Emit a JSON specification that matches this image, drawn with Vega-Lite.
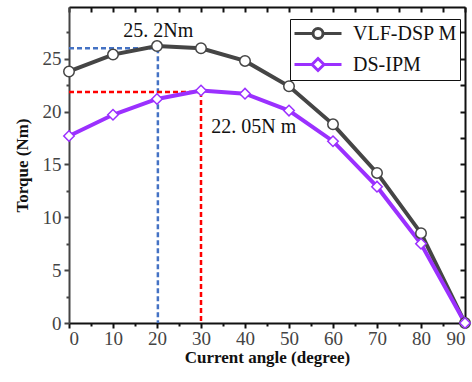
{
  "$schema": "https://vega.github.io/schema/vega-lite/v6.json",
  "autosize": "none",
  "width": 396,
  "height": 316,
  "padding": {"left": 69, "top": 7, "right": 7, "bottom": 59},
  "background": "white",
  "config": {
    "view": {"stroke": null},
    "font": "Liberation Serif",
    "axis": {"grid": false, "labelFont": "Liberation Serif", "titleFont": "Liberation Serif"},
    "legend": {"labelFont": "Liberation Serif"}
  },
  "datasets": {
    "torque": [
      {"angle": 0, "torque": 23.8, "series": "VLF-DSP M"},
      {"angle": 10, "torque": 25.4, "series": "VLF-DSP M"},
      {"angle": 20, "torque": 26.2, "series": "VLF-DSP M"},
      {"angle": 30, "torque": 26.0, "series": "VLF-DSP M"},
      {"angle": 40, "torque": 24.8, "series": "VLF-DSP M"},
      {"angle": 50, "torque": 22.4, "series": "VLF-DSP M"},
      {"angle": 60, "torque": 18.8, "series": "VLF-DSP M"},
      {"angle": 70, "torque": 14.2, "series": "VLF-DSP M"},
      {"angle": 80, "torque": 8.5, "series": "VLF-DSP M"},
      {"angle": 90, "torque": 0, "series": "VLF-DSP M"},
      {"angle": 0, "torque": 17.7, "series": "DS-IPM"},
      {"angle": 10, "torque": 19.7, "series": "DS-IPM"},
      {"angle": 20, "torque": 21.2, "series": "DS-IPM"},
      {"angle": 30, "torque": 22.0, "series": "DS-IPM"},
      {"angle": 40, "torque": 21.7, "series": "DS-IPM"},
      {"angle": 50, "torque": 20.1, "series": "DS-IPM"},
      {"angle": 60, "torque": 17.2, "series": "DS-IPM"},
      {"angle": 70, "torque": 12.9, "series": "DS-IPM"},
      {"angle": 80, "torque": 7.5, "series": "DS-IPM"},
      {"angle": 90, "torque": 0, "series": "DS-IPM"}
    ],
    "blue": [
      {"x": 0, "x2": 20.2, "y": 26.0, "y2": 26.0},
      {"x": 20.2, "x2": 20.2, "y": 26.0, "y2": 0}
    ],
    "red": [
      {"x": 0, "x2": 30, "y": 21.85, "y2": 21.85},
      {"x": 30, "x2": 30, "y": 21.85, "y2": 0}
    ],
    "notes": [
      {"x": 20.3, "y": 27.6, "label": "25. 2Nm"},
      {"x": 42.0, "y": 18.5, "label": "22. 05N m"}
    ]
  },
  "resolve": {
    "scale": {"color": "independent", "shape": "independent"},
    "axis": {"x": "independent", "y": "independent"}
  },
  "layer": [
    {
      "data": {"name": "blue"},
      "mark": {"type": "rule", "color": "#4472C4", "strokeWidth": 2.5, "strokeDash": [5, 3]},
      "encoding": {
        "x": {"field": "x", "type": "quantitative", "scale": {"domain": [0, 90], "nice": false},
          "axis": {"orient": "bottom", "values": [5, 15, 25, 35, 45, 55, 65, 75, 85], "labels": false, "domain": false, "tickSize": 3, "tickWidth": 2, "tickColor": "#111", "title": null}},
        "x2": {"field": "x2"},
        "y": {"field": "y", "type": "quantitative", "scale": {"domain": [0, 29.9], "nice": false},
          "axis": {"orient": "left", "values": [2.5, 7.5, 12.5, 17.5, 22.5, 27.5], "labels": false, "domain": false, "tickSize": 3, "tickWidth": 2, "tickColor": "#444", "title": null}},
        "y2": {"field": "y2"}
      }
    },
    {
      "data": {"name": "red"},
      "mark": {"type": "rule", "color": "#FF0000", "strokeWidth": 2.5, "strokeDash": [5, 3]},
      "encoding": {
        "x": {"field": "x", "type": "quantitative", "scale": {"domain": [0, 90], "nice": false},
          "axis": {"orient": "top", "values": [0, 5, 10, 15, 20, 25, 30, 35, 40, 45, 50, 55, 60, 65, 70, 75, 80, 85, 90], "labels": false, "domain": true, "domainWidth": 2, "domainColor": "#111", "tickSize": -5, "tickWidth": 2, "tickColor": "#111", "title": null}},
        "x2": {"field": "x2"},
        "y": {"field": "y", "type": "quantitative", "scale": {"domain": [0, 29.9], "nice": false},
          "axis": {"orient": "right", "values": [0, 2.5, 5, 7.5, 10, 12.5, 15, 17.5, 20, 22.5, 25, 27.5], "labels": false, "domain": true, "domainWidth": 2, "domainColor": "#111", "tickSize": -5, "tickWidth": 2, "tickColor": "#111", "title": null}},
        "y2": {"field": "y2"}
      }
    },
    {
      "data": {"name": "torque"},
      "mark": {"type": "line", "strokeWidth": 4},
      "encoding": {
        "x": {"field": "angle", "type": "quantitative", "scale": {"domain": [0, 90], "nice": false},
          "axis": {"orient": "bottom", "values": [0, 10, 20, 30, 40, 50, 60, 70, 80, 90], "domainWidth": 2, "domainColor": "#111", "tickSize": 5, "tickWidth": 2, "tickColor": "#111", "labelFont": "Liberation Serif", "labelFontSize": 19, "labelColor": "#444", "labelPadding": 1, "title": "Current angle (degree)", "titleFont": "Liberation Serif", "titleFontSize": 17, "titleFontWeight": "bold", "titleColor": "#111", "titlePadding": 1}},
        "y": {"field": "torque", "type": "quantitative", "scale": {"domain": [0, 29.9], "nice": false},
          "axis": {"orient": "left", "values": [0, 5, 10, 15, 20, 25], "domainWidth": 2, "domainColor": "#444", "tickSize": 5, "tickWidth": 2, "tickColor": "#444", "labelFont": "Liberation Serif", "labelFontSize": 19, "labelColor": "#444", "labelPadding": 3, "title": "Torque (Nm)", "titleFont": "Liberation Serif", "titleFontSize": 17, "titleFontWeight": "bold", "titleColor": "#111", "titlePadding": 11}},
        "color": {"field": "series", "type": "nominal", "scale": {"domain": ["VLF-DSP M", "DS-IPM"], "range": ["#454545", "#9B30FF"]}, "legend": null}
      }
    },
    {
      "data": {"name": "torque"},
      "mark": {"type": "point", "filled": false, "fill": "white", "strokeWidth": 1.5, "size": 110, "opacity": 1},
      "encoding": {
        "x": {"field": "angle", "type": "quantitative", "scale": {"domain": [0, 90], "nice": false}, "axis": null},
        "y": {"field": "torque", "type": "quantitative", "scale": {"domain": [0, 29.9], "nice": false}, "axis": null},
        "shape": {"field": "series", "type": "nominal", "scale": {"domain": ["VLF-DSP M", "DS-IPM"], "range": ["circle", "diamond"]}, "legend": null},
        "color": {"field": "series", "type": "nominal", "scale": {"domain": ["VLF-DSP M", "DS-IPM"], "range": ["#454545", "#9B30FF"]}, "legend": null}
      }
    },
    {
      "data": {"name": "notes"},
      "mark": {"type": "text", "fontSize": 20, "font": "Liberation Serif", "color": "#111"},
      "encoding": {
        "x": {"field": "x", "type": "quantitative", "scale": {"domain": [0, 90], "nice": false}, "axis": null},
        "y": {"field": "y", "type": "quantitative", "scale": {"domain": [0, 29.9], "nice": false}, "axis": null},
        "text": {"field": "label"}
      }
    },
    {
      "data": {"name": "torque"},
      "mark": {"type": "point", "filled": false, "fill": "white", "opacity": 0},
      "encoding": {
        "x": {"field": "angle", "type": "quantitative", "scale": {"domain": [0, 90], "nice": false}, "axis": null},
        "y": {"field": "torque", "type": "quantitative", "scale": {"domain": [0, 29.9], "nice": false}, "axis": null},
        "shape": {"field": "series", "type": "nominal", "scale": {"domain": ["VLF-DSP M", "DS-IPM"], "range": ["M-1,0H0.85M1.85,0H3.7M0.85,0A0.5,0.5,0,1,1,1.85,0A0.5,0.5,0,1,1,0.85,0", "M-1,0H0.75M1.95,0H3.7M0.75,0L1.35,-0.6L1.95,0L1.35,0.6Z"]},
          "legend": {"title": null, "orient": "none", "legendX": 221, "legendY": 12, "symbolSize": 400, "symbolStrokeWidth": 3, "symbolOpacity": 1, "symbolFillColor": "white", "labelFont": "Liberation Serif", "labelFontSize": 20, "labelColor": "#111", "labelOffset": 37, "rowPadding": 7, "padding": 3, "strokeColor": "#111", "fillColor": "white", "encode": {"legend": {"update": {"strokeWidth": {"value": 1.5}}}}}},
        "color": {"field": "series", "type": "nominal", "scale": {"domain": ["VLF-DSP M", "DS-IPM"], "range": ["#454545", "#9B30FF"]},
          "legend": {"title": null, "orient": "none", "legendX": 221, "legendY": 12, "symbolSize": 400, "symbolStrokeWidth": 3, "symbolOpacity": 1, "symbolFillColor": "white", "labelFont": "Liberation Serif", "labelFontSize": 20, "labelColor": "#111", "labelOffset": 37, "rowPadding": 7, "padding": 3, "strokeColor": "#111", "fillColor": "white", "encode": {"legend": {"update": {"strokeWidth": {"value": 1.5}}}}}}
      }
    }
  ]
}
